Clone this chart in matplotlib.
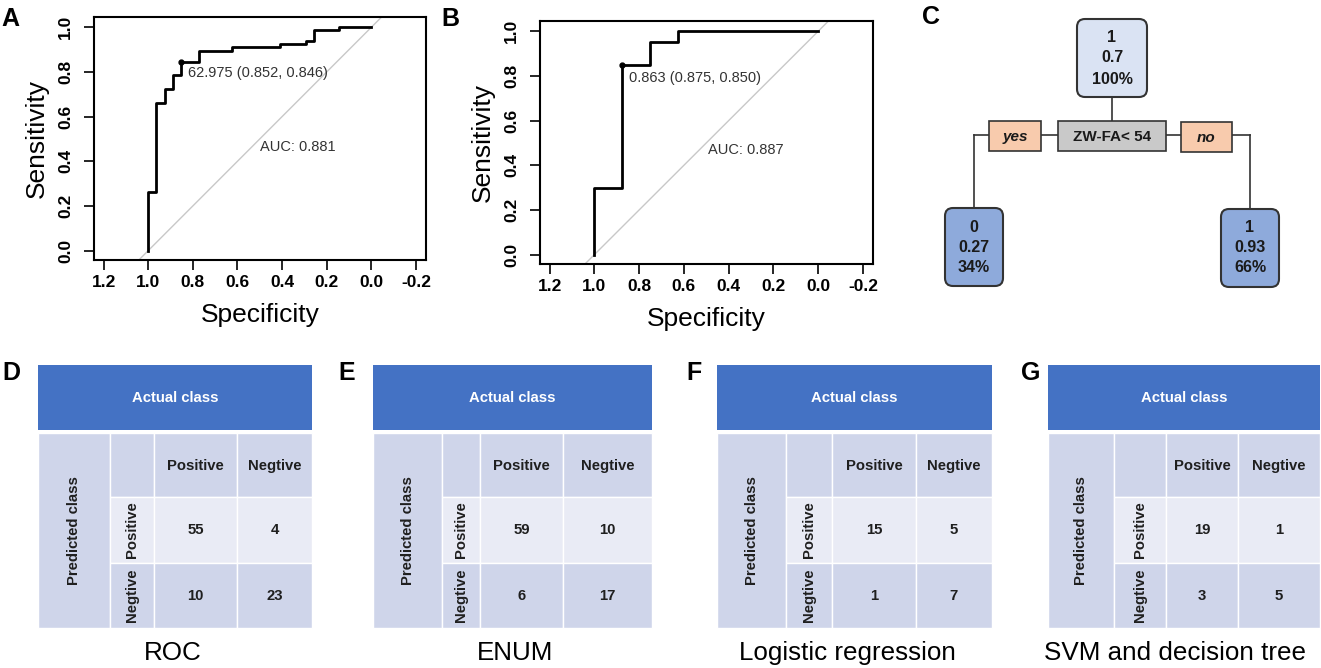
import matplotlib
matplotlib.use('Agg')
import matplotlib.pyplot as plt
from matplotlib.patches import Rectangle, FancyBboxPatch

plt.rcParams['font.family'] = ['Liberation Sans', 'DejaVu Sans']

W, H = 1321, 668

# ROC curve corners (specificity, sensitivity), drawn as vertical-then-horizontal steps
roc_a_spec = [1.0, 0.963, 0.926, 0.888, 0.852, 0.774, 0.625, 0.408, 0.293, 0.256, 0.144, 0.0]
roc_a_sens = [0.0, 0.261, 0.660, 0.722, 0.787, 0.846, 0.894, 0.912, 0.925, 0.940, 0.988, 1.0]
roc_a_best = (0.852, 0.846)
roc_a_best_label = '62.975 (0.852, 0.846)'
roc_a_auc = 'AUC: 0.881'

roc_b_spec = [1.0, 0.875, 0.75, 0.625, 0.0]
roc_b_sens = [0.0, 0.30, 0.85, 0.95, 1.0]
roc_b_best = (0.875, 0.850)
roc_b_best_label = '0.863 (0.875, 0.850)'
roc_b_auc = 'AUC: 0.887'

xticks = [1.2, 1.0, 0.8, 0.6, 0.4, 0.2, 0.0, -0.2]
yticks = [0.0, 0.2, 0.4, 0.6, 0.8, 1.0]

# decision tree nodes
root_node = ['1', '0.7', '100%']
left_node = ['0', '0.27', '34%']
right_node = ['1', '0.93', '66%']
split_rule = 'ZW-FA< 54'

# confusion matrices [[TP, FP], [FN, TN]]
cm_names = ['ROC', 'ENUM', 'Logistic regression', 'SVM and decision tree']
cm_letters = ['D', 'E', 'F', 'G']
cm_values = [[[55, 4], [10, 23]],
             [[59, 10], [6, 17]],
             [[15, 5], [1, 7]],
             [[19, 1], [3, 5]]]

fig = plt.figure(figsize=(W / 100, H / 100), dpi=100)


def px_axes(l, t, r, b):
    return fig.add_axes([l / W, 1 - b / H, (r - l) / W, (b - t) / H])


def roc_panel(box, spec, sens, best, best_label, auc_label, lab_pos, auc_pos):
    ax = px_axes(*box)
    ax.plot([1.6, -0.6], [-0.6, 1.6], color='#c8c8c8', lw=1)
    ax.plot(spec, sens, drawstyle='steps-pre', color='black', lw=2)
    ax.plot(*best, 'o', color='black', ms=3.5)
    ax.text(lab_pos[0], lab_pos[1], best_label, fontsize=10.5, color='#333333',
            ha='left', va='center')
    ax.text(auc_pos[0], auc_pos[1], auc_label, fontsize=10.5, color='#333333',
            ha='left', va='center')
    ax.set_xlim(1.243, -0.245)
    ax.set_ylim(-0.042, 1.046)
    ax.set_xticks(xticks)
    ax.set_xticklabels(['%.1f' % v for v in xticks])
    ax.set_yticks(yticks)
    ax.set_yticklabels(['%.1f' % v for v in yticks], va='center')
    ax.tick_params(axis='both', direction='out', length=7, width=1.2,
                   labelsize=12.5)
    ax.tick_params(axis='x', pad=4)
    ax.tick_params(axis='y', labelrotation=90, pad=8)
    for t in ax.get_xticklabels() + ax.get_yticklabels():
        t.set_fontweight('bold')
    for s in ax.spines.values():
        s.set_linewidth(1.5)
    ax.set_xlabel('Specificity', fontsize=19, labelpad=9)
    ax.set_ylabel('Sensitivity', fontsize=19, labelpad=7)
    return ax


roc_panel((94, 17, 426, 260), roc_a_spec, roc_a_sens, roc_a_best,
          roc_a_best_label, roc_a_auc, (0.823, 0.796), (0.5, 0.463))
roc_panel((540, 21, 873, 264), roc_b_spec, roc_b_sens, roc_b_best,
          roc_b_best_label, roc_b_auc, (0.847, 0.79), (0.493, 0.47))

# overlay in pixel coordinates for tree, tables, labels
ov = fig.add_axes([0, 0, 1, 1])
ov.set_xlim(0, W)
ov.set_ylim(H, 0)
ov.axis('off')

for letter, (x, y) in zip(['A', 'B', 'C'], [(1, 19), (441, 19), (922, 17)]):
    ov.text(x, y, letter, fontsize=18, fontweight='bold', ha='left', va='center')

# tree
edge = '#333333'


def node(l, t, r, b, fc, lines, ys):
    ov.add_patch(FancyBboxPatch((l, t), r - l, b - t,
                                boxstyle='round,pad=0,rounding_size=8',
                                fc=fc, ec=edge, lw=1.5, zorder=3))
    for s, yy in zip(lines, ys):
        ov.text((l + r) / 2, yy, s, fontsize=11.5, fontweight='bold',
                ha='center', va='center', color='#1a1a1a', zorder=4)


def sbox(l, t, r, b, fc, txt, style='normal'):
    ov.add_patch(Rectangle((l, t), r - l, b - t, fc=fc, ec=edge, lw=1.2, zorder=3))
    ov.text((l + r) / 2, (t + b) / 2 + 1, txt, fontsize=11, fontweight='bold',
            style=style, ha='center', va='center', color='#1a1a1a', zorder=4)


ov.plot([1112, 1112], [97, 121], color=edge, lw=1.2)
ov.plot([974, 1250], [135, 135], color=edge, lw=1.2)
ov.plot([974, 974], [135, 208], color=edge, lw=1.2)
ov.plot([1250, 1250], [135, 209], color=edge, lw=1.2)
node(1077, 19, 1147, 97, '#dae3f3', root_node, [38, 58, 79])
node(945, 208, 1003, 286, '#8eaadb', left_node, [227, 247, 267])
node(1221, 209, 1279, 287, '#8eaadb', right_node, [228, 248, 268])
sbox(1058, 121, 1166, 151, '#c9c9c9', split_rule)
sbox(989, 121, 1041, 151, '#f8cbad', 'yes', 'italic')
sbox(1181, 122, 1232, 152, '#f8cbad', 'no', 'italic')

# confusion matrix tables
tbl_left = [38, 373, 717, 1048]
tbl_cols = [[72, 44, 83, 75], [69, 38, 83, 89], [69, 46, 84, 76], [66, 52, 72, 82]]
letter_x = [2, 338, 686, 1021]
caption_x = [173, 515, 847, 1175]
top, head_h, gap = 365, 65, 3
row_h = [64, 66, 65]
dark, light, blue = '#cfd5ea', '#e9ebf5', '#4472c4'
txt_c = '#1f1f1f'
tfs = 10.7

for k in range(4):
    x0 = tbl_left[k]
    cw = tbl_cols[k]
    cx = [x0]
    for w in cw:
        cx.append(cx[-1] + w)
    ry = [top + head_h + gap]
    for h in row_h:
        ry.append(ry[-1] + h)
    ov.add_patch(Rectangle((x0, top), cx[-1] - x0, head_h, fc=blue, ec='none'))
    ov.text((x0 + cx[-1]) / 2, top + head_h / 2, 'Actual class', color='white',
            fontsize=tfs, fontweight='bold', ha='center', va='center')
    # predicted class column
    ov.add_patch(Rectangle((cx[0], ry[0]), cw[0], ry[-1] - ry[0], fc=dark,
                           ec='white', lw=1))
    ov.text((cx[0] + cx[1]) / 2, (ry[0] + ry[-1]) / 2, 'Predicted class',
            rotation=90, fontsize=tfs, fontweight='bold', color=txt_c,
            ha='center', va='center')
    for r in range(3):
        fc = light if r == 1 else dark
        for c in range(1, 4):
            ov.add_patch(Rectangle((cx[c], ry[r]), cw[c], row_h[r], fc=fc,
                                   ec='white', lw=1))
    for c, lab in zip([2, 3], ['Positive', 'Negtive']):
        ov.text((cx[c] + cx[c + 1]) / 2, (ry[0] + ry[1]) / 2 + 1, lab,
                fontsize=tfs, fontweight='bold', color=txt_c, ha='center', va='center')
    for r, lab in zip([1, 2], ['Positive', 'Negtive']):
        ov.text((cx[1] + cx[2]) / 2, (ry[r] + ry[r + 1]) / 2, lab, rotation=90,
                fontsize=tfs, fontweight='bold', color=txt_c, ha='center', va='center')
        for c in range(2):
            ov.text((cx[c + 2] + cx[c + 3]) / 2, (ry[r] + ry[r + 1]) / 2,
                    str(cm_values[k][r - 1][c]), fontsize=tfs, fontweight='bold',
                    color=txt_c, ha='center', va='center')
    ov.text(letter_x[k], 373, cm_letters[k], fontsize=18, fontweight='bold',
            ha='left', va='center')
    ov.text(caption_x[k], 653, cm_names[k], fontsize=18.7, ha='center', va='center')

fig.savefig('out.png', dpi=100)
